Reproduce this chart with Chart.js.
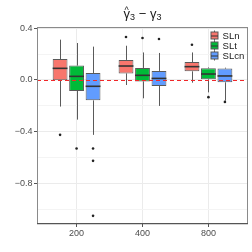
<!DOCTYPE html>
<html>
<head>
<meta charset="utf-8">
<script src="https://cdn.jsdelivr.net/npm/chart.js@4.4.1/dist/chart.umd.min.js"></script>
<style>
    html, body { margin: 0; padding: 0; background: #fff; }
    canvas { display: block; }
</style>
</head>
<body>
<canvas id="c" width="252" height="252"></canvas>
<script>
/* data */
var groups = ['200', '400', '800'];
var seriesNames = ['SLn', 'SLt', 'SLcn'];

// [lower whisker, q1, median, q3, upper whisker] for each group
var slnStats = [
    [-0.206, -0.003, 0.090, 0.162, 0.312],
    [-0.039, 0.051, 0.108, 0.155, 0.265],
    [-0.021, 0.067, 0.103, 0.139, 0.213]
];
var sltStats = [
    [-0.307, -0.085, 0.028, 0.111, 0.286],
    [-0.142, -0.011, 0.036, 0.093, 0.213],
    [-0.096, 0.005, 0.046, 0.091, 0.097]
];
var slcnStats = [
    [-0.425, -0.158, -0.049, 0.054, 0.258],
    [-0.201, -0.046, 0.012, 0.070, 0.209],
    [-0.160, -0.018, 0.031, 0.088, 0.095]
];

var slnOutliers = [[-0.425], [0.333], [0.273]];
var sltOutliers = [[-0.531], [0.325], [-0.133]];
var slcnOutliers = [[-0.531, -0.626, -1.052], [0.317], [-0.170]];

var yTicks = [-1.0, -0.8, -0.6, -0.4, -0.2, 0.0, 0.2, 0.4];
var yLabelTicks = [-0.8, -0.4, 0.0, 0.4];
var refValue = 0;

/* styles */
var COLORS = ['#F8766D', '#00BA38', '#619CFF'];
var FONT = "'Liberation Sans', Arial, sans-serif";

var allStats = [slnStats, sltStats, slcnStats];
var allOutliers = [slnOutliers, sltOutliers, slcnOutliers];

function isMajor(v) {
    return yLabelTicks.some(function(t) { return Math.abs(t - v) < 1e-6; });
}

var datasets = seriesNames.map(function(name, s) {
    return {
        label: name,
        data: allStats[s].map(function(st, g) {
            return { x: g + 1, y: [st[1], st[3]] };
        }),
        backgroundColor: COLORS[s],
        borderColor: '#5a5a5a',
        borderWidth: 1,
        borderSkipped: false,
        categoryPercentage: 0.75,
        barPercentage: 0.9
    };
});

/* whiskers, medians, outliers, reference line, border, legend and title */
var boxExtras = {
    id: 'boxExtras',
    beforeDatasetsDraw: function(chart) {
        var ctx = chart.ctx, y = chart.scales.y;
        ctx.save();
        ctx.strokeStyle = '#5a5a5a';
        ctx.lineWidth = 1;
        chart.data.datasets.forEach(function(ds, s) {
            chart.getDatasetMeta(s).data.forEach(function(el, g) {
                var st = allStats[s][g];
                var x = Math.round(el.x) + 0.5;
                ctx.beginPath();
                ctx.moveTo(x, y.getPixelForValue(st[0]));
                ctx.lineTo(x, y.getPixelForValue(st[1]));
                ctx.moveTo(x, y.getPixelForValue(st[3]));
                ctx.lineTo(x, y.getPixelForValue(st[4]));
                ctx.stroke();
            });
        });
        ctx.restore();
    },
    afterDatasetsDraw: function(chart) {
        var ctx = chart.ctx, y = chart.scales.y, area = chart.chartArea;
        ctx.save();
        chart.data.datasets.forEach(function(ds, s) {
            chart.getDatasetMeta(s).data.forEach(function(el, g) {
                var st = allStats[s][g];
                var half = el.width / 2;
                var my = y.getPixelForValue(st[2]);
                ctx.strokeStyle = '#333';
                ctx.lineWidth = 1.6;
                ctx.beginPath();
                ctx.moveTo(el.x - half, my);
                ctx.lineTo(el.x + half, my);
                ctx.stroke();
                ctx.fillStyle = '#222';
                allOutliers[s][g].forEach(function(v) {
                    ctx.beginPath();
                    ctx.arc(el.x, y.getPixelForValue(v), 1.3, 0, Math.PI * 2);
                    ctx.fill();
                });
            });
        });
        // dashed reference line
        var ry = Math.round(y.getPixelForValue(refValue)) + 0.5;
        ctx.strokeStyle = '#F0282A';
        ctx.lineWidth = 1;
        ctx.setLineDash([4, 3]);
        ctx.beginPath();
        ctx.moveTo(area.left, ry);
        ctx.lineTo(area.right, ry);
        ctx.stroke();
        ctx.restore();
    },
    afterDraw: function(chart) {
        var ctx = chart.ctx, a = chart.chartArea;
        ctx.save();
        // panel border
        ctx.strokeStyle = '#8a8a8a';
        ctx.lineWidth = 1;
        ctx.strokeRect(Math.round(a.left) + 0.5, Math.round(a.top) + 0.5,
            Math.round(a.right - a.left) - 1, Math.round(a.bottom - a.top) - 1);
        ctx.strokeStyle = '#555';
        ctx.lineWidth = 1.3;
        ctx.beginPath();
        ctx.moveTo(a.left, Math.round(a.bottom) - 0.3);
        ctx.lineTo(a.right, Math.round(a.bottom) - 0.3);
        ctx.stroke();

        // legend inside the panel, top right
        var kx = a.right - 37.5, ky = a.top + 8.5;
        ctx.font = '9.6px ' + FONT;
        ctx.textBaseline = 'middle';
        chart.data.datasets.forEach(function(ds, s) {
            var cy = ky + s * 10;
            ctx.strokeStyle = '#5a5a5a';
            ctx.lineWidth = 1;
            ctx.beginPath();
            ctx.moveTo(kx + 4, cy - 5);
            ctx.lineTo(kx + 4, cy + 5);
            ctx.stroke();
            ctx.fillStyle = ds.backgroundColor;
            ctx.fillRect(kx + 0.5, cy - 3.5, 7, 7);
            ctx.strokeRect(kx + 0.5, cy - 3.5, 7, 7);
            ctx.strokeStyle = '#333';
            ctx.beginPath();
            ctx.moveTo(kx + 0.5, cy + 0.5);
            ctx.lineTo(kx + 7.5, cy + 0.5);
            ctx.stroke();
            ctx.fillStyle = '#1a1a1a';
            ctx.fillText(ds.label, kx + 12, cy + 0.5);
        });

        // title: gamma-hat_3 - gamma_3
        var big = '13px ' + FONT, small = '9px ' + FONT;
        var parts = [['γ', big, 0], ['3', small, 2], [' − ', big, 0], ['γ', big, 0], ['3', small, 2]];
        var total = 0;
        parts.forEach(function(p) { ctx.font = p[1]; total += ctx.measureText(p[0]).width; });
        var x = (a.left + a.right) / 2 - total / 2, base = 18;
        ctx.fillStyle = '#1a1a1a';
        ctx.textBaseline = 'alphabetic';
        parts.forEach(function(p, i) {
            ctx.font = p[1];
            ctx.fillText(p[0], x, base + p[2]);
            if (i === 0) {
                ctx.font = '9px ' + FONT;
                ctx.fillText('^', x + 1, base - 5);
                ctx.font = p[1];
            }
            x += ctx.measureText(p[0]).width;
        });
        ctx.restore();
    }
};

new Chart(document.getElementById('c'), {
    type: 'bar',
    data: { datasets: datasets },
    plugins: [boxExtras],
    options: {
        responsive: false,
        animation: false,
        events: [],
        layout: { padding: { top: 27, right: 4, left: 0, bottom: 0 } },
        plugins: {
            legend: { display: false },
            title: { display: false },
            tooltip: { enabled: false }
        },
        scales: {
            x: {
                type: 'linear',
                min: 0.4,
                max: 3.6,
                offset: false,
                afterBuildTicks: function(scale) {
                    scale.ticks = groups.map(function(g, i) { return { value: i + 1 }; });
                },
                afterFit: function(scale) { scale.height = 28; },
                border: { display: false },
                grid: { offset: false, color: '#EBEBEB', tickColor: '#555', tickLength: 3 },
                ticks: {
                    color: '#4D4D4D',
                    font: { family: FONT, size: 9 },
                    padding: 1,
                    maxRotation: 0,
                    callback: function(v) { return groups[Math.round(v) - 1]; }
                }
            },
            y: {
                min: -1.115,
                max: 0.41,
                afterBuildTicks: function(scale) {
                    scale.ticks = yTicks.map(function(v) { return { value: v }; });
                },
                afterFit: function(scale) { scale.width = 37; },
                border: { display: false },
                grid: {
                    color: function(c) { return isMajor(c.tick.value) ? '#EBEBEB' : '#F4F4F4'; },
                    tickColor: function(c) { return isMajor(c.tick.value) ? '#555' : 'rgba(0,0,0,0)'; },
                    tickLength: 3
                },
                ticks: {
                    color: '#4D4D4D',
                    font: { family: FONT, size: 9 },
                    padding: 1.5,
                    callback: function(v) {
                        return isMajor(v) ? v.toFixed(1).replace('-', '\u2212') : '';
                    }
                }
            }
        }
    }
});
</script>
</body>
</html>
